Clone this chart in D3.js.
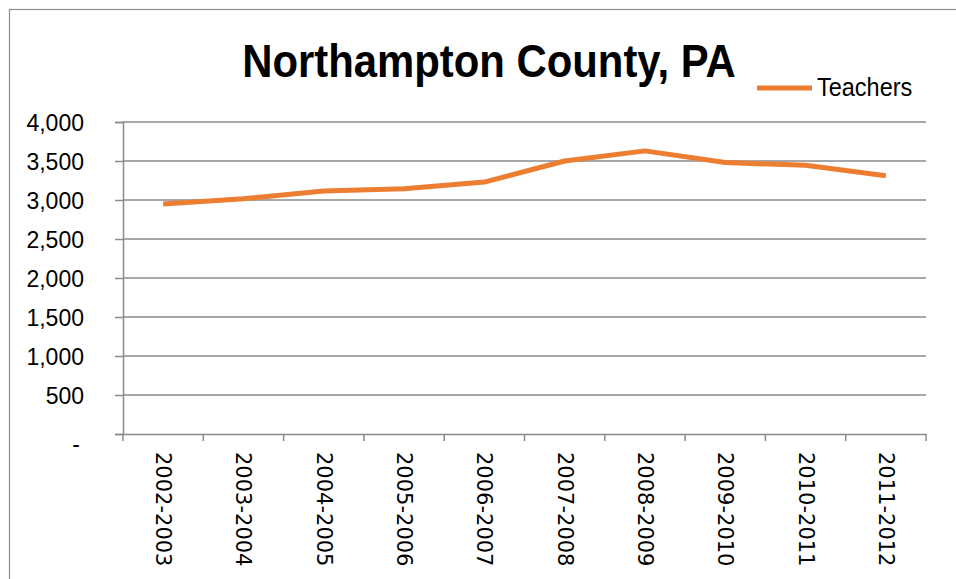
<!DOCTYPE html>
<html><head><meta charset="utf-8">
<script src="https://cdn.jsdelivr.net/npm/d3@7"></script>
<style>html,body{margin:0;padding:0;background:#fff;}svg{display:block;}</style>
</head><body>
<svg id="chart" width="956" height="579"></svg>
<script>
const title = "Northampton County, PA";
const seriesName = "Teachers";
const categories = ["2002-2003","2003-2004","2004-2005","2005-2006","2006-2007","2007-2008","2008-2009","2009-2010","2010-2011","2011-2012"];
const teachers = [2950, 3015, 3115, 3145, 3230, 3500, 3630, 3480, 3445, 3310];
const yTicks = [0, 500, 1000, 1500, 2000, 2500, 3000, 3500, 4000];

const svg = d3.select("#chart");
const m = {left: 123, right: 926, top: 122, bottom: 434};
const FONT = "'Liberation Sans', Arial, sans-serif";
const GRID = "#8a8a8a";

svg.append("rect").attr("x", 9.5).attr("y", 9.5).attr("width", 960).attr("height", 600)
  .attr("fill", "#fff").attr("stroke", "#8c8c8c").attr("stroke-width", 1.2);

const x = d3.scaleBand().domain(categories).range([m.left, m.right]);
const y = d3.scaleLinear().domain([0, 4000]).range([m.bottom, m.top]);

const fmt = v => v === 0 ? "-" : d3.format(",")(v);

// gridlines
svg.append("g").selectAll("line").data(yTicks.filter(d => d > 0)).join("line")
  .attr("x1", m.left).attr("x2", m.right)
  .attr("y1", d => y(d)).attr("y2", d => y(d))
  .attr("stroke", GRID).attr("stroke-width", 1.5);

// y axis
const yAxis = svg.append("g").attr("transform", `translate(${m.left},0)`)
  .call(d3.axisLeft(y).tickValues(yTicks).tickFormat(fmt).tickSize(8).tickPadding(31));
yAxis.select(".domain").attr("stroke", GRID).attr("stroke-width", 1.5);
yAxis.selectAll(".tick line").attr("stroke", GRID).attr("stroke-width", 1.5);
yAxis.selectAll(".tick text").attr("font-family", FONT)
  .attr("font-size", 23).attr("fill", "#000")
  .attr("dy", "0.35em");
yAxis.selectAll(".tick text").filter(d => d === 0)
  .attr("x", -43).attr("dy", "0.75em");

// x axis
const xAxis = svg.append("g").attr("transform", `translate(0,${m.bottom})`)
  .call(d3.axisBottom(x).tickSize(0).tickFormat(""));
xAxis.select(".domain").attr("stroke", GRID).attr("stroke-width", 1.5);
const bounds = categories.map(c => x(c)).concat([x(categories[categories.length-1]) + x.bandwidth()]);
xAxis.selectAll("line.bt").data(bounds).join("line").attr("class", "bt")
  .attr("x1", d => d).attr("x2", d => d).attr("y1", 0).attr("y2", 7)
  .attr("stroke", GRID).attr("stroke-width", 1.5);
xAxis.selectAll("text.xl").data(categories).join("text").attr("class", "xl")
  .attr("transform", d => `translate(${x(d) + x.bandwidth()/2 - 7},18) rotate(90)`)
  .attr("font-family", "'DejaVu Sans', sans-serif").attr("font-size", 21)
  .attr("fill", "#000").attr("text-anchor", "start")
  .text(d => d);

// line
const line = d3.line().x((d, i) => x(categories[i]) + x.bandwidth()/2).y(d => y(d));
svg.append("path").datum(teachers).attr("d", line)
  .attr("fill", "none").attr("stroke", "#ED7D31").attr("stroke-width", 5)
  .attr("stroke-linejoin", "round");

// title
svg.append("text").attr("transform", "translate(489,77) scale(0.91,1)").attr("text-anchor", "middle")
  .attr("font-family", FONT).attr("font-weight", "bold")
  .attr("font-size", 46).attr("fill", "#000").text(title);

// legend
svg.append("line").attr("x1", 757).attr("x2", 812).attr("y1", 88).attr("y2", 88)
  .attr("stroke", "#ED7D31").attr("stroke-width", 5);
svg.append("text").attr("transform", "translate(817,96) scale(0.94,1)")
  .attr("font-family", FONT).attr("font-size", 25)
  .attr("fill", "#000").text(seriesName);
</script>
</body></html>
